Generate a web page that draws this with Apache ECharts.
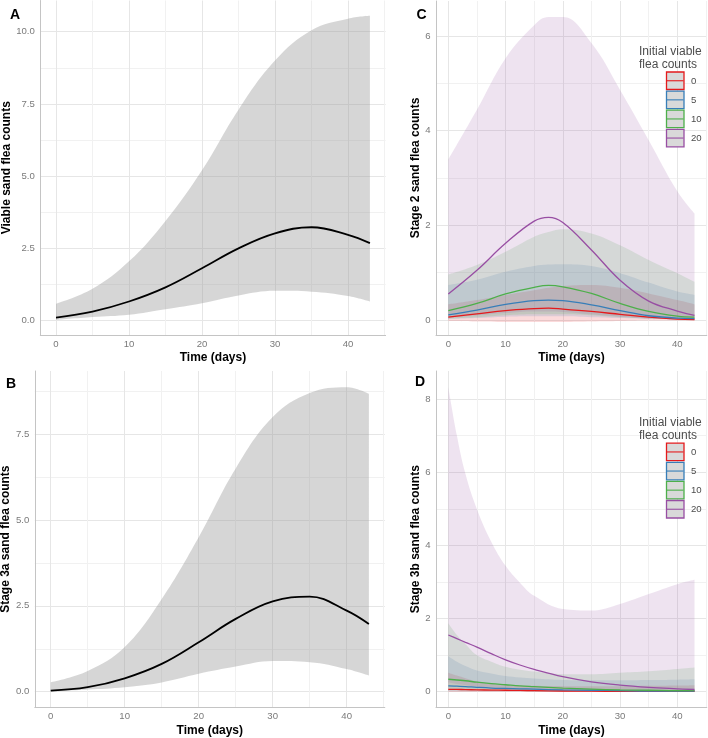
<!DOCTYPE html>
<html>
<head>
<meta charset="utf-8">
<script src="https://cdn.jsdelivr.net/npm/echarts@6/dist/echarts.min.js"></script>
<style>
  html, body { margin: 0; padding: 0; background: #fff; }
  #chart { width: 708px; height: 738px; }
</style>
</head>
<body>
<div id="chart"></div>
<script>
const daysAB = [0, 5, 10, 15, 20, 25, 30, 35, 40, 43];
const daysC = [0, 5, 10, 15, 17.5, 20, 25, 30, 35, 40, 43];
const daysD = [0, 1.5, 3, 5, 7.5, 10, 12.5, 15, 20, 25, 30, 35, 40, 43];

// A - viable sand fleas
const viableMean = [0.10, 0.31, 0.66, 1.15, 1.81, 2.50, 3.02, 3.23, 2.97, 2.68];
const viableLow = [0.02, 0.12, 0.20, 0.39, 0.60, 0.87, 1.03, 1.00, 0.85, 0.66];
const viableHigh = [0.58, 1.10, 2.05, 3.45, 5.20, 7.30, 9.00, 10.05, 10.45, 10.55];

// B - stage 3a
const stage3aMean = [0.03, 0.13, 0.39, 0.81, 1.44, 2.12, 2.63, 2.77, 2.36, 1.97];
const stage3aLow = [0.00, 0.06, 0.13, 0.27, 0.52, 0.73, 0.89, 0.86, 0.66, 0.47];
const stage3aHigh = [0.27, 0.60, 1.30, 2.70, 4.50, 6.50, 8.00, 8.70, 8.87, 8.68];

// C and D - one row per initial viable flea count
const groups = ['0', '5', '10', '20'];
const groupColors = ['#E41A1C', '#377EB8', '#4DAF4A', '#984EA3'];

const stage2Mean = [
  [0.06, 0.13, 0.20, 0.24, 0.25, 0.23, 0.18, 0.12, 0.06, 0.02, 0.01],
  [0.11, 0.21, 0.33, 0.41, 0.42, 0.41, 0.32, 0.20, 0.09, 0.04, 0.03],
  [0.20, 0.35, 0.55, 0.69, 0.73, 0.70, 0.56, 0.35, 0.18, 0.08, 0.06],
  [0.55, 1.05, 1.62, 2.09, 2.17, 2.06, 1.48, 0.84, 0.40, 0.19, 0.10]
];
const stage2Low = [
  [-0.02, -0.03, -0.04, -0.04, -0.04, -0.04, -0.03, -0.02, -0.01, -0.01, -0.01],
  [0.02, 0.04, 0.07, 0.08, 0.08, 0.08, 0.06, 0.04, 0.02, 0.01, 0.00],
  [0.03, 0.06, 0.10, 0.12, 0.12, 0.12, 0.10, 0.06, 0.03, 0.01, 0.01],
  [0.05, 0.10, 0.15, 0.18, 0.18, 0.17, 0.12, 0.07, 0.03, 0.01, 0.01]
];
const stage2High = [
  [0.33, 0.42, 0.53, 0.63, 0.68, 0.72, 0.74, 0.68, 0.56, 0.42, 0.33],
  [0.74, 0.85, 1.02, 1.14, 1.17, 1.18, 1.14, 0.99, 0.79, 0.60, 0.53],
  [0.96, 1.16, 1.44, 1.76, 1.86, 1.92, 1.83, 1.58, 1.27, 0.99, 0.81],
  [3.39, 4.44, 5.53, 6.23, 6.40, 6.40, 5.85, 4.86, 3.80, 2.72, 2.25]
];

const stage3bMean = [
  [0.065, 0.062, 0.058, 0.05, 0.045, 0.04, 0.035, 0.03, 0.02, 0.015, 0.01, 0.01, 0.01, 0.01],
  [0.16, 0.15, 0.14, 0.12, 0.10, 0.09, 0.08, 0.07, 0.05, 0.04, 0.03, 0.02, 0.02, 0.02],
  [0.34, 0.32, 0.30, 0.26, 0.22, 0.19, 0.16, 0.14, 0.10, 0.07, 0.05, 0.04, 0.03, 0.03],
  [1.55, 1.45, 1.35, 1.22, 1.04, 0.87, 0.73, 0.61, 0.41, 0.27, 0.18, 0.12, 0.08, 0.06]
];
const stage3bLow = [
  [-0.01, -0.01, -0.01, -0.01, -0.01, -0.01, -0.01, -0.01, -0.01, -0.01, -0.01, -0.01, -0.01, -0.01],
  [0.01, 0.01, 0.01, 0.01, 0.01, 0.01, 0.01, 0.00, 0.00, 0.00, 0.00, 0.00, 0.00, 0.00],
  [0.04, 0.04, 0.03, 0.03, 0.02, 0.02, 0.02, 0.01, 0.01, 0.01, 0.00, 0.00, 0.00, 0.00],
  [0.25, 0.21, 0.18, 0.14, 0.10, 0.07, 0.05, 0.04, 0.02, 0.01, 0.01, 0.00, 0.00, 0.00]
];
const stage3bHigh = [
  [0.52, 0.44, 0.37, 0.28, 0.22, 0.19, 0.17, 0.16, 0.15, 0.15, 0.15, 0.16, 0.17, 0.18],
  [0.97, 0.82, 0.70, 0.58, 0.50, 0.43, 0.39, 0.36, 0.32, 0.31, 0.31, 0.32, 0.33, 0.34],
  [1.87, 1.55, 1.30, 1.00, 0.82, 0.68, 0.60, 0.55, 0.48, 0.48, 0.52, 0.56, 0.62, 0.66],
  [8.33, 7.00, 5.95, 4.99, 4.10, 3.44, 2.98, 2.62, 2.26, 2.22, 2.40, 2.67, 2.94, 3.06]
];

// tick values
const xTicks = [0, 10, 20, 30, 40];
const xMinor = [5, 15, 25, 35, 45];
const yTicksA = [0, 2.5, 5, 7.5, 10];
const yMinorA = [1.25, 3.75, 6.25, 8.75];
const yTicksB = [0, 2.5, 5, 7.5];
const yMinorB = [1.25, 3.75, 6.25, 8.75];
const yTicksC = [0, 2, 4, 6];
const yMinorC = [1, 3, 5];
const yTicksD = [0, 2, 4, 6, 8];
const yMinorD = [1, 3, 5, 7];

const FONT = '"Liberation Sans", Arial, sans-serif';
const SMOOTH = 0.4;

const panels = [
  { grid: { left: 40.3, top: 0.5, width: 345.3, height: 334.5 }, yMin: -0.5, yMax: 11.08,
    ticks: yTicksA, minor: yMinorA, dec: 1, name: 'Viable sand flea counts', nameGap: 27 },
  { grid: { left: 436, top: 1, width: 270.8, height: 334 }, yMin: -0.317, yMax: 6.74,
    ticks: yTicksC, minor: yMinorC, dec: 0, name: 'Stage 2 sand flea counts', nameGap: 14.5 },
  { grid: { left: 34.8, top: 371, width: 350, height: 336.3 }, yMin: -0.455, yMax: 9.34,
    ticks: yTicksB, minor: yMinorB, dec: 1, name: 'Stage 3a sand flea counts', nameGap: 22 },
  { grid: { left: 436, top: 371, width: 270.8, height: 336.3 }, yMin: -0.426, yMax: 8.765,
    ticks: yTicksD, minor: yMinorD, dec: 0, name: 'Stage 3b sand flea counts', nameGap: 14.5 }
];

const grids = [], xAxes = [], yAxes = [], series = [];
const axisLineStyle = { color: '#c4c4c4', width: 1 };
const majorGrid = { color: '#e6e6e6', width: 1 };
const minorGrid = { color: '#f1f1f1', width: 1 };
const titleStyle = { color: '#000', fontSize: 12, fontWeight: 'bold', fontFamily: FONT };

panels.forEach((p, i) => {
  grids.push(Object.assign({ containLabel: false, outerBoundsMode: 'none' }, p.grid));
  // main x axis + hidden one carrying the minor grid
  xAxes.push({
    type: 'value', gridIndex: i, min: -2.15, max: 45.15, position: 'bottom',
    axisLine: { show: true, onZero: false, lineStyle: axisLineStyle },
    axisTick: { show: false, customValues: xTicks },
    axisLabel: { customValues: xTicks, color: '#7a7a7a', fontSize: 9.6, fontFamily: FONT, margin: 4 },
    splitLine: { show: true, lineStyle: majorGrid },
    name: 'Time (days)', nameLocation: 'middle', nameGap: 17, nameTextStyle: titleStyle
  });
  xAxes.push({
    type: 'value', gridIndex: i, min: -2.15, max: 45.15, position: 'top',
    axisLine: { show: false, onZero: false }, axisTick: { show: false, customValues: xMinor },
    axisLabel: { show: false }, splitLine: { show: true, lineStyle: minorGrid }
  });
  yAxes.push({
    type: 'value', gridIndex: i, min: p.yMin, max: p.yMax, position: 'left',
    axisLine: { show: true, onZero: false, lineStyle: axisLineStyle },
    axisTick: { show: false, customValues: p.ticks },
    axisLabel: { customValues: p.ticks, color: '#7a7a7a', fontSize: 9.6, fontFamily: FONT, margin: 5.5,
      formatter: v => v.toFixed(p.dec) },
    splitLine: { show: true, lineStyle: majorGrid },
    name: p.name, nameLocation: 'middle', nameGap: p.nameGap, nameTextStyle: titleStyle
  });
  yAxes.push({
    type: 'value', gridIndex: i, min: p.yMin, max: p.yMax, position: 'right',
    axisLine: { show: false, onZero: false }, axisTick: { show: false, customValues: p.minor },
    axisLabel: { show: false }, splitLine: { show: true, lineStyle: minorGrid }
  });
});

// ribbons: lower bound + (upper - lower) stacked; the value is put first so the
// stack runs on the y dimension
function addRibbon(panel, days, lo, hi, color, opacity, id) {
  const base = {
    type: 'line', xAxisIndex: panel * 2, yAxisIndex: panel * 2, stack: id, stackStrategy: 'all',
    encode: { x: 1, y: 0 },
    smooth: SMOOTH, symbol: 'none', silent: true, z: 1, emphasis: { disabled: true },
    lineStyle: { width: 0, opacity: 0 }
  };
  series.push(Object.assign({}, base, { data: days.map((d, k) => [lo[k], d]) }));
  series.push(Object.assign({}, base, {
    data: days.map((d, k) => [hi[k] - lo[k], d]),
    areaStyle: { color: color, opacity: opacity }
  }));
}

function addLine(panel, days, vals, color, width) {
  series.push({
    type: 'line', xAxisIndex: panel * 2, yAxisIndex: panel * 2,
    data: days.map((d, k) => [d, vals[k]]), smooth: SMOOTH, symbol: 'none', silent: true, z: 3,
    emphasis: { disabled: true }, lineStyle: { color: color, width: width }
  });
}

// A and B
addRibbon(0, daysAB, viableLow, viableHigh, '#999999', 0.4, 'A');
addLine(0, daysAB, viableMean, '#000', 1.8);
addRibbon(2, daysAB, stage3aLow, stage3aHigh, '#999999', 0.4, 'B');
addLine(2, daysAB, stage3aMean, '#000', 1.8);

// C and D
groups.forEach((g, k) => {
  addRibbon(1, daysC, stage2Low[k], stage2High[k], groupColors[k], 0.16, 'C' + g);
  addRibbon(3, daysD, stage3bLow[k], stage3bHigh[k], groupColors[k], 0.16, 'D' + g);
});
groups.forEach((g, k) => {
  addLine(1, daysC, stage2Mean[k], groupColors[k], 1.3);
  addLine(3, daysD, stage3bMean[k], groupColors[k], 1.3);
});

// panel tags and legends
const graphics = [];
[['A', 10, 15], ['C', 416.5, 15], ['B', 6, 384], ['D', 415, 382.5]].forEach(t => {
  graphics.push({ type: 'text', z: 100, style: { text: t[0], x: t[1], y: t[2], font: 'bold 14px ' + FONT,
    fill: '#000', textVerticalAlign: 'middle' } });
});

function legendAt(top) {
  graphics.push({ type: 'text', z: 100, style: { text: 'Initial viable', x: 639, y: top, font: '12px ' + FONT,
    fill: '#4d4d4d', textVerticalAlign: 'middle' } });
  graphics.push({ type: 'text', z: 100, style: { text: 'flea counts', x: 639, y: top + 13.3, font: '12px ' + FONT,
    fill: '#4d4d4d', textVerticalAlign: 'middle' } });
  groups.forEach((g, k) => {
    const y = top + 20.5 + k * 19.1;
    graphics.push({ type: 'rect', z: 100, shape: { x: 666.5, y: y, width: 17.5, height: 17.5 },
      style: { fill: '#d9d9d9', stroke: groupColors[k], lineWidth: 1.3 } });
    graphics.push({ type: 'line', z: 101, shape: { x1: 667, y1: y + 8.75, x2: 683.5, y2: y + 8.75 },
      style: { stroke: groupColors[k], lineWidth: 1.1 } });
    graphics.push({ type: 'text', z: 100, style: { text: g, x: 691, y: y + 9, font: '9.6px ' + FONT,
      fill: '#4d4d4d', textVerticalAlign: 'middle' } });
  });
}
legendAt(51.5);
legendAt(422.7);

const chart = echarts.init(document.getElementById('chart'), null, { renderer: 'canvas' });
chart.setOption({
  animation: false,
  backgroundColor: '#fff',
  grid: grids,
  xAxis: xAxes,
  yAxis: yAxes,
  series: series,
  graphic: graphics
});
</script>
</body>
</html>
